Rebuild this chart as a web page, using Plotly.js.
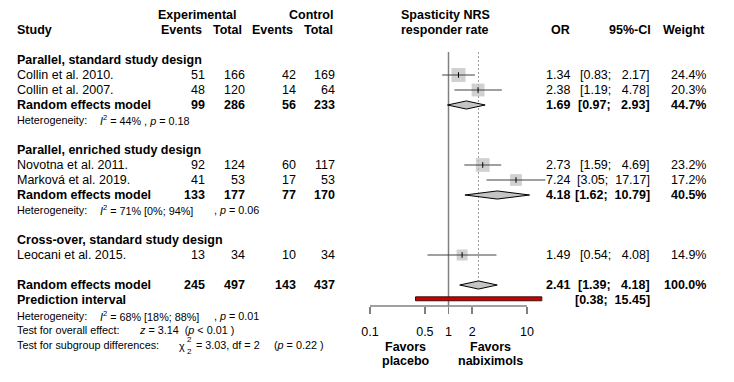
<!DOCTYPE html>
<html>
<head>
<meta charset="utf-8">
<script src="https://cdn.plot.ly/plotly-3.0.1.min.js"></script>
<style>html,body{margin:0;padding:0;background:#fff;}#chart{width:734px;height:382px;}</style>
</head>
<body>
<div id="chart"></div>
<script>
// ---------------- DATA ----------------
const studies     = ["Collin et al. 2010.", "Collin et al. 2007.", "Novotna et al. 2011.", "Marková et al. 2019.", "Leocani et al. 2015."];
const studyGroup  = [0, 0, 1, 1, 2];
const expEvents   = [51, 48, 92, 41, 13];
const expTotal    = [166, 120, 124, 53, 34];
const ctrlEvents  = [42, 14, 60, 17, 10];
const ctrlTotal   = [169, 64, 117, 53, 34];
const orEst       = [1.34, 2.38, 2.73, 7.24, 1.49];
const ciLow       = [0.83, 1.19, 1.59, 3.05, 0.54];
const ciHigh      = [2.17, 4.78, 4.69, 17.17, 4.08];
const weights     = [24.4, 20.3, 23.2, 17.2, 14.9];

const groups      = ["Parallel, standard study design", "Parallel, enriched study design", "Cross-over, standard study design"];
// pooled rows: group 1, group 2, overall
const poolExpEvents  = [99, 133, 245];
const poolExpTotal   = [286, 177, 497];
const poolCtrlEvents = [56, 77, 143];
const poolCtrlTotal  = [233, 170, 437];
const poolEst        = [1.69, 4.18, 2.41];
const poolLow        = [0.97, 1.62, 1.39];
const poolHigh       = [2.93, 10.79, 4.18];
const poolWeight     = [44.7, 40.5, 100.0];

const hetI2     = [44, 71, 68];
const hetI2Low  = [null, 0, 18];
const hetI2High = [null, 94, 88];
const hetP      = ["0.18", "0.06", "0.01"];

const predLow = 0.38, predHigh = 15.45;
const overallZ = "3.14", overallP = "< 0.01";
const subgroupChi = "3.03", subgroupDf = 2, subgroupP = "0.22";

const tickVals = [0.1, 0.5, 1, 2, 10];
const tickText = ["0.1", "0.5", "1", "2", "10"];

// ---------------- LAYOUT HELPERS ----------------
const W = 734, H = 382;
const FONT = "Liberation Sans, Arial, Helvetica, sans-serif";
const FS = 12.5, FSS = 10.8;
const rowPx = k => 15 + 15 * k;      // row index -> pixel
const studyRows = [4, 5, 10, 11, 16];
const groupRows = [3, 9, 15];
const poolRows  = [6, 12, 18];
const hetRows   = [7, 13, 20.07];
const predRow   = 19;
const axisRow   = 19.4;
const lineTopRow = 2.47;

function ann(text, xpx, row, anchor, size, extra) {
  const a = {text: text, xref: "paper", yref: "y", x: xpx / W, y: row,
    xanchor: anchor, yanchor: "middle", showarrow: false, borderpad: 0,
    font: {family: FONT, size: size || FS, color: "#000"}};
  return Object.assign(a, extra || {});
}
const nb = "\u00A0";
function fmtCI(lo, hi) {
  return "[" + lo.toFixed(2) + ";" + nb + (hi < 10 ? nb + nb : nb) + hi.toFixed(2) + "]";
}

const annotations = [];
// headers
annotations.push(ann("<b>Experimental</b>", 197.5, 0, "center"));
annotations.push(ann("<b>Control</b>", 334, 0, "right"));
annotations.push(ann("<b>Study</b>", 16, 1, "left"));
annotations.push(ann("<b>Events</b>", 203, 1, "right"));
annotations.push(ann("<b>Total</b>", 243, 1, "right"));
annotations.push(ann("<b>Events</b>", 294, 1, "right"));
annotations.push(ann("<b>Total</b>", 334, 1, "right"));
annotations.push(ann("<b>Spasticity NRS</b>", 400, 0, "left"));
annotations.push(ann("<b>responder rate</b>", 400, 1, "left"));
annotations.push(ann("<b>OR</b>", 571, 1, "right"));
annotations.push(ann("<b>95%-CI</b>", 652, 1, "right"));
annotations.push(ann("<b>Weight</b>", 706, 1, "right"));

// group labels
groups.forEach((g, i) => annotations.push(ann("<b>" + g + "</b>", 16, groupRows[i], "left")));

// studies
studies.forEach((s, i) => {
  const r = studyRows[i];
  annotations.push(ann(s, 16, r, "left"));
  annotations.push(ann(String(expEvents[i]), 206, r, "right"));
  annotations.push(ann(String(expTotal[i]), 246, r, "right"));
  annotations.push(ann(String(ctrlEvents[i]), 297, r, "right"));
  annotations.push(ann(String(ctrlTotal[i]), 336, r, "right"));
  annotations.push(ann(orEst[i].toFixed(2), 571, r, "right"));
  annotations.push(ann(fmtCI(ciLow[i], ciHigh[i]), 651, r, "right"));
  annotations.push(ann(weights[i].toFixed(1) + "%", 707, r, "right"));
});

// pooled
poolEst.forEach((e, i) => {
  const r = poolRows[i];
  const b = t => "<b>" + t + "</b>";
  annotations.push(ann(b("Random effects model"), 16, r, "left"));
  annotations.push(ann(b(poolExpEvents[i]), 206, r, "right"));
  annotations.push(ann(b(poolExpTotal[i]), 246, r, "right"));
  annotations.push(ann(b(poolCtrlEvents[i]), 297, r, "right"));
  annotations.push(ann(b(poolCtrlTotal[i]), 336, r, "right"));
  annotations.push(ann(b(e.toFixed(2)), 571, r, "right"));
  annotations.push(ann(b(fmtCI(poolLow[i], poolHigh[i])), 651, r, "right"));
  annotations.push(ann(b(poolWeight[i].toFixed(1) + "%"), 707, r, "right"));
});
annotations.push(ann("<b>Prediction interval</b>", 16, predRow, "left"));
annotations.push(ann("<b>" + fmtCI(predLow, predHigh) + "</b>", 651, predRow, "right"));

// heterogeneity
hetI2.forEach((v, i) => {
  const r = hetRows[i];
  annotations.push(ann("Heterogeneity:", 16, r, "left", FSS));
  if (hetI2Low[i] === null) {
    annotations.push(ann("<i>I</i><sup>2</sup> = " + v + "% , <i>p</i> = " + hetP[i], 99, r, "left", FSS));
  } else {
    annotations.push(ann("<i>I</i><sup>2</sup> = " + v + "% [" + hetI2Low[i] + "%; " + hetI2High[i] + "%]", 99, r, "left", FSS));
    annotations.push(ann(", <i>p</i> = " + hetP[i], 213, r, "left", FSS));
  }
});
annotations.push(ann("Test for overall effect:", 16, 21, "left", FSS));
annotations.push(ann("<i>z</i> = " + overallZ + nb + nb + "(<i>p</i> " + overallP + " )", 138, 21, "left", FSS));
annotations.push(ann("Test for subgroup differences:", 16, 22, "left", FSS));
annotations.push(ann("χ", 178, 22.05, "left", FSS));
annotations.push(ann("2", 186, 21.6, "left", 8));
annotations.push(ann(String(subgroupDf), 186, 22.45, "left", 8));
annotations.push(ann("= " + subgroupChi + ", df = " + subgroupDf, 195, 22, "left", FSS));
annotations.push(ann("(<i>p</i> = " + subgroupP + " )", 273, 22, "left", FSS));

// favors labels
annotations.push(ann("<b>Favors</b>", 406, 22.1, "center"));
annotations.push(ann("<b>placebo</b>", 406, 23.05, "center"));
annotations.push(ann("<b>Favors</b>", 490, 22.1, "center"));
annotations.push(ann("<b>nabiximols</b>", 490, 23.05, "center"));

// ---------------- TRACES ----------------
const traces = [];
// null line at OR = 1
traces.push({x: [1, 1], y: [lineTopRow, axisRow], mode: "lines", line: {color: "#808080", width: 1.5}});
// dotted overall-estimate line
traces.push({x: [poolEst[2], poolEst[2]], y: [lineTopRow, poolRows[2] - 0.25], mode: "lines",
  line: {color: "#9a9a9a", width: 1, dash: "2px,2px"}});
// study squares
traces.push({x: orEst, y: studyRows, mode: "markers",
  marker: {symbol: "square", color: "#bebebe", size: weights.map(w => 2.85 * Math.sqrt(w)), line: {width: 0}}});
// CI lines
const cx = [], cy = [];
ciLow.forEach((lo, i) => { cx.push(lo, ciHigh[i], null); cy.push(studyRows[i], studyRows[i], null); });
traces.push({x: cx, y: cy, mode: "lines", line: {color: "#404040", width: 1}});
// estimate ticks
traces.push({x: orEst, y: studyRows, mode: "markers",
  marker: {symbol: "line-ns", size: 4, line: {color: "#000", width: 1}}});
// diamonds
const dx = [], dy = [];
const dh = 0.27;
poolEst.forEach((e, i) => {
  const r = poolRows[i];
  dx.push(poolLow[i], e, poolHigh[i], e, poolLow[i], null);
  dy.push(r, r - dh, r, r + dh, r, null);
});
traces.push({x: dx, y: dy, mode: "lines", fill: "toself", fillcolor: "#c4c4c4", line: {color: "#000", width: 1}});
// prediction interval
const pr = predRow - 0.08, ph = 0.13;
traces.push({x: [predLow, predHigh, predHigh, predLow, predLow], y: [pr - ph, pr - ph, pr + ph, pr + ph, pr - ph],
  mode: "lines", fill: "toself", fillcolor: "#cc0000", line: {color: "#3a1010", width: 1}});
// axis line
traces.push({x: [tickVals[0], tickVals[tickVals.length - 1]], y: [axisRow, axisRow], mode: "lines",
  line: {color: "#808080", width: 1.5}});

traces.forEach(t => { t.type = "scatter"; t.showlegend = false; t.hoverinfo = "skip"; t.cliponaxis = false; });

// x axis mapping: log scale, 78.5 px per decade, OR=1 at x=448.5 px
const pxL = 350, pxR = 570, px1 = 448.5, pxDec = 78.5;
const layout = {
  width: W, height: H,
  margin: {l: 0, r: 0, t: 0, b: 0, pad: 0},
  paper_bgcolor: "#fff", plot_bgcolor: "rgba(0,0,0,0)",
  showlegend: false,
  xaxis: {type: "log", domain: [pxL / W, pxR / W], range: [(pxL - px1) / pxDec, (pxR - px1) / pxDec],
    anchor: "free", position: 1 - rowPx(axisRow) / H,
    showgrid: false, zeroline: false, showline: false,
    ticks: "outside", ticklen: 7, tickwidth: 1.5, tickcolor: "#808080",
    tickmode: "array", tickvals: tickVals, ticktext: tickText, ticklabelstandoff: 7,
    tickfont: {family: FONT, size: FS, color: "#000"}, fixedrange: true},
  yaxis: {domain: [0, 1], range: [(H - 15) / 15, -1], visible: false, showgrid: false, zeroline: false, fixedrange: true},
  annotations: annotations,
  hovermode: false
};

Plotly.newPlot("chart", traces, layout, {staticPlot: true, displayModeBar: false});
</script>
</body>
</html>
